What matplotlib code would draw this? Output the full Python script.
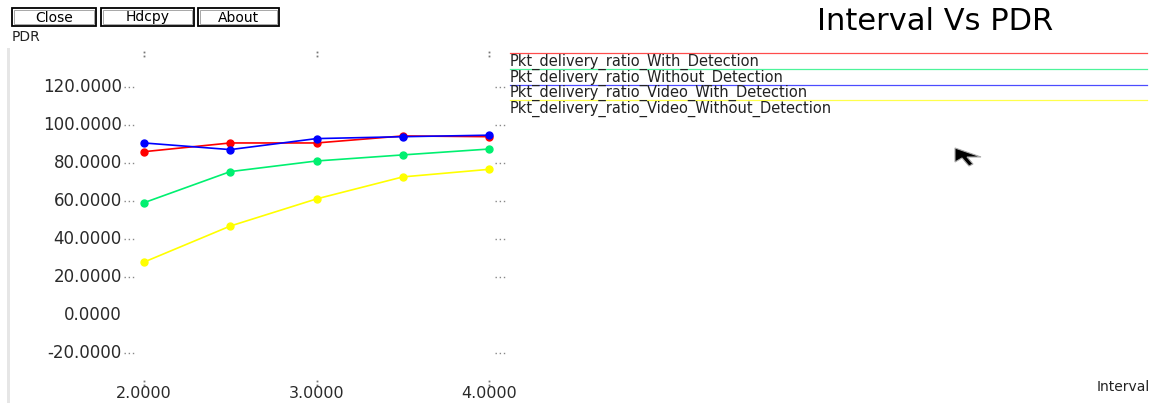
import matplotlib
matplotlib.use("Agg")
import matplotlib.pyplot as plt
import matplotlib.transforms as mtransforms
from matplotlib.patches import Rectangle, Polygon

# ---------------- data ----------------
intervals = [2.0, 2.5, 3.0, 3.5, 4.0]
pdr_with_detection = [85.9, 90.5, 90.5, 94.2, 93.8]
pdr_without_detection = [59.0, 75.4, 81.0, 84.2, 87.3]
pdr_video_with_detection = [90.5, 87.0, 92.8, 93.8, 94.6]
pdr_video_without_detection = [27.7, 46.7, 61.0, 72.6, 76.6]

series_names = [
    "Pkt_delivery_ratio_With_Detection",
    "Pkt_delivery_ratio_Without_Detection",
    "Pkt_delivery_ratio_Video_With_Detection",
    "Pkt_delivery_ratio_Video_Without_Detection",
]
series_values = [pdr_with_detection, pdr_without_detection,
                 pdr_video_with_detection, pdr_video_without_detection]
series_colors = ["#ff0000", "#00f070", "#0000ff", "#ffff00"]

y_tick_values = [-20, 0, 20, 40, 60, 80, 100, 120]
y_tick_labels = ["-20.0000", "0.0000", "20.0000", "40.0000", "60.0000",
                 "80.0000", "100.0000", "120.0000"]
x_tick_values = [2, 3, 4]
x_tick_labels = ["2.0000", "3.0000", "4.0000"]

title = "Interval Vs PDR"
x_label = "Interval"
y_label = "PDR"
buttons = ["Close", "Hdcpy", "About"]

plt.rcParams["font.family"] = ["DejaVu Sans"]

W, H = 1152, 403
fig = plt.figure(figsize=(W / 100, H / 100), dpi=100)
fig.patch.set_facecolor("white")

# background overlay axes in pixel coordinates (decorations)
bg = fig.add_axes([0, 0, 1, 1], zorder=0)
bg.set_xlim(0, W)
bg.set_ylim(H, 0)
bg.axis("off")

# data axes
left_px, right_px, top_px, bot_px = 144, 489, 54, 385
ax = fig.add_axes([left_px / W, 1 - bot_px / H, (right_px - left_px) / W,
                   (bot_px - top_px) / H], zorder=2)
ax.patch.set_alpha(0)
ax.set_xlim(2, 4)
ax.set_ylim(-37.1, 137.4)
for s in ax.spines.values():
    s.set_visible(False)
ax.set_xticks([])
ax.set_yticks([])

for vals, col in zip(series_values, series_colors):
    ax.plot(intervals, vals, color=col, lw=1.2, marker="o", ms=5,
            mec=col, mfc=col, clip_on=False)

# y tick labels and dotted tick marks
ty = mtransforms.blended_transform_factory(fig.transFigure, ax.transData)
for v, lab in zip(y_tick_values, y_tick_labels):
    ax.text(122 / W, v, lab, transform=ty, ha="right", va="center",
            fontsize=12, color="#2a2a2a")
    if v != 0:
        ax.plot([124 / W, 134 / W], [v, v], transform=ty, color="#888888",
                lw=1.0, ls=(0, (1, 2)), clip_on=False)
        ax.plot([495 / W, 505 / W], [v, v], transform=ty, color="#888888",
                lw=1.0, ls=(0, (1, 2)), clip_on=False)

# x tick labels and ':' marks
tx = mtransforms.blended_transform_factory(ax.transData, fig.transFigure)
for v, lab in zip(x_tick_values, x_tick_labels):
    for yp in (52, 56, 381, 385):
        ax.plot([v], [1 - yp / H], transform=tx, marker="s", ms=1.3,
                color="#777777", mec="none", clip_on=False)
    ax.text(v, 1 - 398.5 / H, lab, transform=tx, ha="center", va="baseline",
            fontsize=11.5, color="#2a2a2a")

# left grey border
bg.add_patch(Rectangle((7, 48), 3, H - 48, color="#e6e6e6", lw=0))

# buttons
button_boxes = [(12, 96), (101, 194), (198, 279)]
for name, (x0, x1) in zip(buttons, button_boxes):
    bg.add_patch(Rectangle((x0, 8), x1 - x0, 18, fill=False,
                           edgecolor="black", lw=1.3))
    bg.add_patch(Rectangle((x0 + 2, 10), x1 - x0 - 4, 14, fill=False,
                           edgecolor="#999999", lw=0.6))
    bg.text((x0 + x1) / 2, 17.5, name, ha="center", va="center",
            fontsize=10, color="black")

bg.text(12, 37, y_label, ha="left", va="center", fontsize=10, color="#222222")
bg.text(935, 21, title, ha="center", va="center", fontsize=22, color="black")
bg.text(1150, 387, x_label, ha="right", va="center", fontsize=10,
        color="#222222")

# legend
legend_y = [53, 69, 84.5, 100]
for name, col, ly in zip(series_names, series_colors, legend_y):
    bg.plot([510, 1147], [ly, ly], color=col, lw=0.9, alpha=0.7)
    bg.text(510, ly + 12.5, name, ha="left", va="baseline", fontsize=10.5,
            color="#222222")

# mouse cursor
bg.add_patch(Polygon([(955, 148), (955, 162), (962, 158), (969, 166),
                      (973, 164), (967, 157), (981, 157)], closed=True,
                     facecolor="black", edgecolor="#aaaaaa", lw=0.8))

fig.savefig("out.png", dpi=100)
